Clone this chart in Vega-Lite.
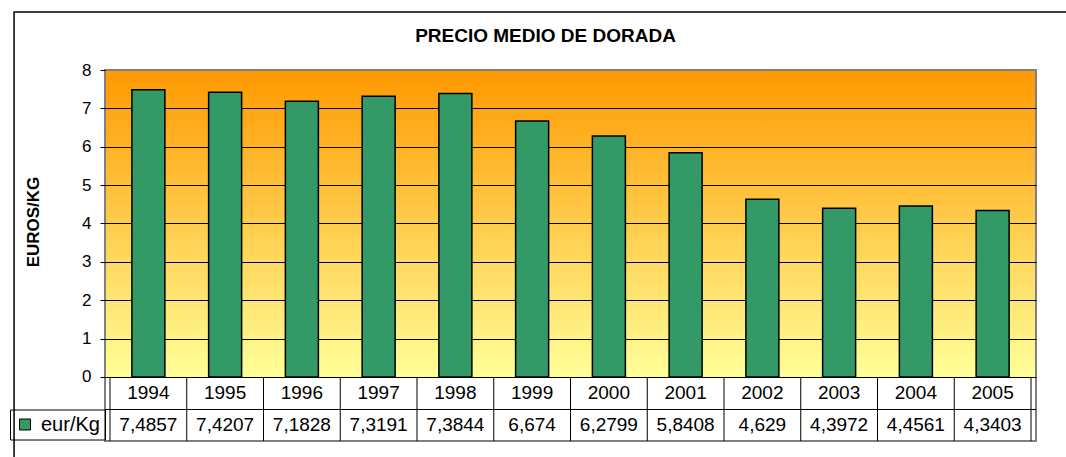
{
  "$schema": "https://vega.github.io/schema/vega-lite/v6.json",
  "autosize": "none",
  "width": 931,
  "height": 371,
  "padding": {"left": 105, "top": 70, "right": 30, "bottom": 16},
  "background": "white",
  "title": {
    "text": "PRECIO MEDIO DE DORADA",
    "font": "Liberation Sans",
    "fontSize": 19,
    "fontWeight": "bold",
    "color": "black",
    "anchor": "middle",
    "baseline": "bottom",
    "dx": -25,
    "offset": -54
  },
  "datasets": {
    "precio": [
      {"year": 1994, "value": 7.4857},
      {"year": 1995, "value": 7.4207},
      {"year": 1996, "value": 7.1828},
      {"year": 1997, "value": 7.3191},
      {"year": 1998, "value": 7.3844},
      {"year": 1999, "value": 6.674},
      {"year": 2000, "value": 6.2799},
      {"year": 2001, "value": 5.8408},
      {"year": 2002, "value": 4.629},
      {"year": 2003, "value": 4.3972},
      {"year": 2004, "value": 4.4561},
      {"year": 2005, "value": 4.3403}
    ],
    "edges": [
      {"edge": 1993.5}, {"edge": 1994.5}, {"edge": 1995.5}, {"edge": 1996.5},
      {"edge": 1997.5}, {"edge": 1998.5}, {"edge": 1999.5}, {"edge": 2000.5},
      {"edge": 2001.5}, {"edge": 2002.5}, {"edge": 2003.5}, {"edge": 2004.5},
      {"edge": 2005.5}
    ]
  },
  "layer": [
    {
      "data": {"values": [{}]},
      "mark": {"type": "rect", "fill": null, "fillOpacity": 0, "stroke": "black", "strokeWidth": 1.5},
      "encoding": {
        "x": {"datum": 1992.25, "type": "quantitative", "axis": null},
        "x2": {"datum": 2006.5},
        "y": {"datum": 9.511, "type": "quantitative"},
        "y2": {"datum": -2.5}
      }
    },
    {
      "data": {"name": "precio"},
      "mark": {"type": "bar", "width": 33, "stroke": "black", "strokeWidth": 1.5},
      "encoding": {
        "x": {"field": "year", "type": "quantitative", "axis": null,
              "scale": {"domain": [1993.5, 2005.5], "nice": false, "zero": false}},
        "y": {"field": "value", "type": "quantitative",
              "scale": {"domain": [-1.668, 8], "nice": false, "zero": false},
              "axis": {
                "title": "EUROS/KG",
                "titleFont": "Liberation Sans",
                "titleFontSize": 17,
                "titleFontWeight": "bold",
                "titleColor": "black",
                "titlePadding": 39,
                "titleY": 151.5,
                "values": [0, 1, 2, 3, 4, 5, 6, 7, 8],
                "labelFont": "Liberation Sans",
                "labelFontSize": 17,
                "labelColor": "black",
                "labelPadding": 9,
                "tickColor": "black",
                "tickSize": 5,
                "domain": false,
                "grid": true,
                "gridColor": {"condition": {"test": "datum.value === 8", "value": "#808080"}, "value": "black"},
                "gridWidth": 1
              }},
        "y2": {"datum": 0},
        "color": {"datum": "eur/Kg", "type": "nominal",
                  "scale": {"range": ["#339966"]},
                  "legend": {
                    "title": null,
                    "orient": "none",
                    "legendX": -95,
                    "legendY": 339.5,
                    "symbolType": "square",
                    "symbolSize": 121,
                    "symbolStrokeColor": "black",
                    "symbolStrokeWidth": 1,
                    "labelFont": "Liberation Sans",
                    "labelFontSize": 20,
                    "labelColor": "black",
                    "labelOffset": 6,
                    "padding": 5,
                    "strokeColor": "black"
                  }}
      }
    },
    {
      "data": {"values": [{}]},
      "mark": {"type": "rule", "color": "black", "strokeWidth": 1},
      "encoding": {"y": {"datum": -0.847, "type": "quantitative"}}
    },
    {
      "data": {"name": "edges"},
      "mark": {"type": "rule", "color": "black", "strokeWidth": 1},
      "encoding": {
        "x": {"field": "edge", "type": "quantitative", "axis": null},
        "y": {"datum": 0, "type": "quantitative"},
        "y2": {"datum": -1.668}
      }
    },
    {
      "data": {"name": "precio"},
      "mark": {"type": "text", "font": "Liberation Sans", "fontSize": 19, "color": "black", "baseline": "middle"},
      "encoding": {
        "x": {"field": "year", "type": "quantitative", "axis": null},
        "y": {"datum": -0.43, "type": "quantitative"},
        "text": {"field": "year", "type": "nominal"}
      }
    },
    {
      "data": {"name": "precio"},
      "mark": {"type": "text", "font": "Liberation Sans", "fontSize": 19, "color": "black", "baseline": "middle"},
      "encoding": {
        "x": {"field": "year", "type": "quantitative", "axis": null},
        "y": {"datum": -1.25, "type": "quantitative"},
        "text": {"field": "value", "type": "quantitative", "format": ".6~r"}
      }
    }
  ],
  "config": {
    "locale": {"number": {"decimal": ",", "thousands": ".", "grouping": [3], "currency": ["", " €"]}},
    "view": {
      "fill": {
        "gradient": "linear",
        "x1": 0, "y1": 0, "x2": 0, "y2": 1,
        "stops": [
          {"offset": 0, "color": "#FF9900"},
          {"offset": 0.8275, "color": "#FFFF99"},
          {"offset": 0.8275, "color": "#FFFFFF"},
          {"offset": 1, "color": "#FFFFFF"}
        ]
      },
      "stroke": "#808080",
      "strokeWidth": 2
    }
  }
}
